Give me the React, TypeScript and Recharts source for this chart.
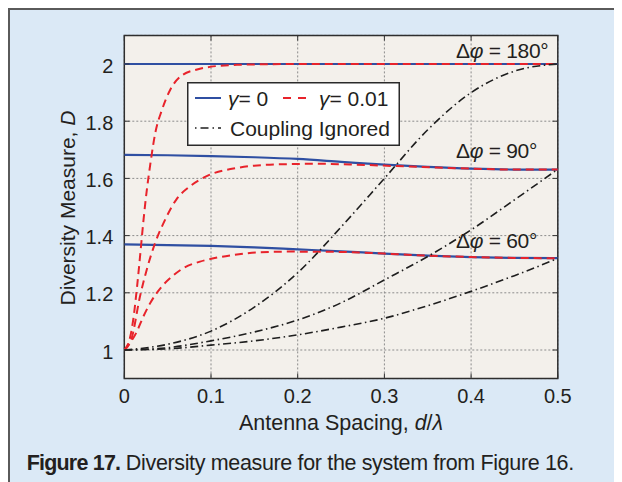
import React from 'react';
import {
  LineChart,
  Line,
  XAxis,
  YAxis,
  CartesianGrid,
  ReferenceArea,
  ReferenceLine,
  ReferenceDot,
  Legend,
} from 'recharts';

// ---------- data ----------
const xTicks = [0, 0.1, 0.2, 0.3, 0.4, 0.5];
const xTickLabels = ['0', '0.1', '0.2', '0.3', '0.4', '0.5'];
const yTicks = [1, 1.2, 1.4, 1.6, 1.8, 2];
const yTickLabels = ['1', '1.2', '1.4', '1.6', '1.8', '2'];

// gamma = 0 (solid blue)
const blue180X = [0, 0.1, 0.2, 0.3, 0.4, 0.5];
const blue180Y = [2, 2, 2, 2, 2, 2];
const blue90X = [0, 0.05, 0.1, 0.15, 0.2, 0.25, 0.3, 0.35, 0.4, 0.45, 0.5];
const blue90Y = [1.682, 1.681, 1.678, 1.674, 1.668, 1.658, 1.648, 1.64, 1.634, 1.631, 1.631];
const blue60X = [0, 0.05, 0.1, 0.15, 0.2, 0.25, 0.3, 0.35, 0.4, 0.45, 0.5];
const blue60Y = [1.369, 1.367, 1.364, 1.359, 1.352, 1.345, 1.337, 1.33, 1.325, 1.322, 1.321];

// gamma = 0.01 (dashed red)
const red180X = [0, 0.0069, 0.0108, 0.0147, 0.0185, 0.022, 0.026, 0.03, 0.0358, 0.0435, 0.053, 0.0647, 0.084, 0.099, 0.13, 0.2, 0.3, 0.4, 0.5];
const red180Y = [1, 1.047, 1.117, 1.221, 1.338, 1.45, 1.56, 1.65, 1.76, 1.84, 1.91, 1.956, 1.981, 1.99, 1.997, 2, 2, 2, 2];
const red90X = [0, 0.0085, 0.018, 0.0258, 0.0354, 0.047, 0.06, 0.076, 0.095, 0.131, 0.177, 0.223, 0.268, 0.314, 0.36, 0.4, 0.45, 0.5];
const red90Y = [1, 1.041, 1.186, 1.28, 1.373, 1.455, 1.526, 1.573, 1.608, 1.637, 1.649, 1.651, 1.648, 1.643, 1.638, 1.634, 1.631, 1.631];
const red60X = [0, 0.0144, 0.022, 0.0297, 0.043, 0.0547, 0.068, 0.0873, 0.099, 0.126, 0.157, 0.187, 0.25, 0.3, 0.35, 0.4, 0.45, 0.5];
const red60Y = [1, 1.064, 1.117, 1.163, 1.221, 1.256, 1.286, 1.309, 1.318, 1.332, 1.342, 1.344, 1.343, 1.337, 1.33, 1.325, 1.322, 1.321];

// coupling ignored (dash-dot black)
const blackX = [0, 0.05, 0.1, 0.15, 0.2, 0.25, 0.3, 0.35, 0.4, 0.45, 0.5];
const black180Y = [1, 1.02, 1.066, 1.15, 1.27, 1.43, 1.6, 1.77, 1.9, 1.975, 2];
const black90Y = [1, 1.008, 1.032, 1.063, 1.105, 1.165, 1.245, 1.327, 1.42, 1.525, 1.632];
const black60Y = [1, 1.004, 1.017, 1.032, 1.053, 1.08, 1.111, 1.155, 1.205, 1.26, 1.32];

// annotations
const phiLabels = ['180', '90', '60'];
const phiLabelX = [0.3826, 0.3826, 0.3826];
const phiLabelY = [2.02, 1.67, 1.356];

const legendLabels = ['0', '0.01', 'Coupling Ignored'];
const xTitle = 'Antenna Spacing, ';
const yTitle = 'Diversity Measure, ';
const captionBold = 'Figure 17.';
const captionText = ' Diversity measure for the system from Figure 16.';

type Pt = { x: number; y: number };
const mk = (xs: number[], ys: number[]): Pt[] => xs.map((x, i) => ({ x, y: ys[i] }));

const blue180 = mk(blue180X, blue180Y);
const blue90 = mk(blue90X, blue90Y);
const blue60 = mk(blue60X, blue60Y);
const red180 = mk(red180X, red180Y);
const red90 = mk(red90X, red90Y);
const red60 = mk(red60X, red60Y);
const black180 = mk(blackX, black180Y);
const black90 = mk(blackX, black90Y);
const black60 = mk(blackX, black60Y);

// ---------- style ----------
const FONT = '"Liberation Sans", Arial, Helvetica, sans-serif';
const TXT = '#231f20';
const BLUE = '#2f4fa2';
const RED = '#e8232b';
const BLACK = '#1e1e1e';
const RED_DASH = '8 5';
const BLACK_DASH = '8 3.5 1.5 3.5';

const X0 = 0, X1 = 0.5, Y0 = 0.9, Y1 = 2.1;
const TICK_DX = 0.006; // inward tick length in x-units
const TICK_DY = 0.018; // inward tick length in y-units

const LegendBox = () => (
  <svg width={213} height={64} style={{ display: 'block' }}>
    <rect x={0.75} y={0.75} width={211.5} height={62.5} fill="#ffffff" stroke="#2a2a2a" strokeWidth={1.5} />
    <line x1={8} y1={16} x2={34} y2={16} stroke={BLUE} strokeWidth={2} />
    <text x={41} y={23.5} fontSize={21} fill={TXT} fontFamily={FONT}>
      <tspan fontStyle="italic">γ</tspan>= {legendLabels[0]}
    </text>
    <line x1={96} y1={16} x2={120} y2={16} stroke={RED} strokeWidth={2} strokeDasharray="8 7" />
    <text x={132} y={23.5} fontSize={21} fill={TXT} fontFamily={FONT}>
      <tspan fontStyle="italic">γ</tspan>= {legendLabels[1]}
    </text>
    <line x1={8} y1={46} x2={34} y2={46} stroke={BLACK} strokeWidth={1.5} strokeDasharray="1.5 4 8 4" />
    <text x={43} y={53.5} fontSize={21} fill={TXT} fontFamily={FONT}>
      {legendLabels[2]}
    </text>
  </svg>
);

const makePhiLabel = (val: string) => (props: any) => {
  const vb = props.viewBox || {};
  const x = (vb.x ?? 0) + (vb.width ?? 0) / 2;
  const y = (vb.y ?? 0) + (vb.height ?? 0) / 2;
  return (
    <text x={x} y={y} fontSize={21} fill={TXT} fontFamily={FONT} letterSpacing={-0.3}>
      Δ<tspan fontStyle="italic">φ</tspan> = {val}°
    </text>
  );
};

const XTitle = (props: any) => {
  const vb = props.viewBox || {};
  return (
    <text x={vb.x + vb.width / 2} y={vb.y + 51.5} textAnchor="middle" fontSize={21.5} fill={TXT} fontFamily={FONT}>
      {xTitle}
      <tspan fontStyle="italic">d</tspan>/<tspan fontStyle="italic">λ</tspan>
    </text>
  );
};

const YTitle = (props: any) => {
  const vb = props.viewBox || {};
  const cx = 65;
  const cy = vb.y + vb.height / 2 + 1;
  return (
    <text x={cx} y={cy} transform={`rotate(-90, ${cx}, ${cy})`} textAnchor="middle" fontSize={21} fill={TXT} fontFamily={FONT}>
      {yTitle}
      <tspan fontStyle="italic">D</tspan>
    </text>
  );
};

export default function App() {
  return (
    <div
      style={{
        position: 'relative',
        width: 614,
        height: 474,
        boxSizing: 'border-box',
        borderTop: '2px solid #5a5a5a',
        borderLeft: '2px solid #5a5a5a',
        background: '#dbe9f6',
        fontFamily: FONT,
      }}
    >
      <style>{'html,body{overflow:hidden}'}</style>
      <div style={{ position: 'absolute', left: 0, top: 0 }}>
        <LineChart
          width={612}
          height={440}
          margin={{ top: 25.4, right: 64.2, left: 0, bottom: 11.4 }}
        >
          <CartesianGrid
            stroke="#8c8c8c"
            strokeDasharray="2 2"
            strokeWidth={1}
            fill="#f3f0eb"
            fillOpacity={1}
          />
          <XAxis
            dataKey="x"
            type="number"
            domain={[X0, X1]}
            ticks={xTicks}
            tickFormatter={(v: number) => xTickLabels[xTicks.indexOf(v)] ?? String(v)}
            tickLine={false}
            axisLine={false}
            tickSize={0}
            tickMargin={10.5}
            height={60}
            tick={{ fill: TXT, fontSize: 20, fontFamily: FONT }}
            label={<XTitle />}
            allowDataOverflow
          />
          <YAxis
            type="number"
            domain={[Y0, Y1]}
            ticks={yTicks}
            tickFormatter={(v: number) => yTickLabels[yTicks.indexOf(v)] ?? String(v)}
            tickLine={false}
            axisLine={false}
            tickSize={0}
            tickMargin={11}
            width={114.3}
            tick={{ fill: TXT, fontSize: 20, fontFamily: FONT, dy: 1.5 }}
            label={<YTitle />}
            allowDataOverflow
          />

          <Line data={blue180} dataKey="y" type="monotone" stroke={BLUE} strokeWidth={2.2} dot={false} isAnimationActive={false} />
          <Line data={blue90} dataKey="y" type="monotone" stroke={BLUE} strokeWidth={2.2} dot={false} isAnimationActive={false} />
          <Line data={blue60} dataKey="y" type="monotone" stroke={BLUE} strokeWidth={2.2} dot={false} isAnimationActive={false} />
          <Line data={red180} dataKey="y" type="monotone" stroke={RED} strokeWidth={2} strokeDasharray={RED_DASH} dot={false} isAnimationActive={false} />
          <Line data={red90} dataKey="y" type="monotone" stroke={RED} strokeWidth={2} strokeDasharray={RED_DASH} dot={false} isAnimationActive={false} />
          <Line data={red60} dataKey="y" type="monotone" stroke={RED} strokeWidth={2} strokeDasharray={RED_DASH} dot={false} isAnimationActive={false} />
          <Line data={black180} dataKey="y" type="monotone" stroke={BLACK} strokeWidth={1.6} strokeDasharray={BLACK_DASH} dot={false} isAnimationActive={false} />
          <Line data={black90} dataKey="y" type="monotone" stroke={BLACK} strokeWidth={1.6} strokeDasharray={BLACK_DASH} dot={false} isAnimationActive={false} />
          <Line data={black60} dataKey="y" type="monotone" stroke={BLACK} strokeWidth={1.6} strokeDasharray={BLACK_DASH} dot={false} isAnimationActive={false} />

          {xTicks.map((t) => (
            <ReferenceLine key={`xb${t}`} segment={[{ x: t, y: Y0 }, { x: t, y: Y0 + TICK_DY }]} stroke="#333" strokeWidth={1} />
          ))}
          {xTicks.map((t) => (
            <ReferenceLine key={`xt${t}`} segment={[{ x: t, y: Y1 }, { x: t, y: Y1 - TICK_DY }]} stroke="#333" strokeWidth={1} />
          ))}
          {yTicks.map((t) => (
            <ReferenceLine key={`yl${t}`} segment={[{ x: X0, y: t }, { x: X0 + TICK_DX, y: t }]} stroke="#333" strokeWidth={1} />
          ))}
          {yTicks.map((t) => (
            <ReferenceLine key={`yr${t}`} segment={[{ x: X1, y: t }, { x: X1 - TICK_DX, y: t }]} stroke="#333" strokeWidth={1} />
          ))}

          <ReferenceArea x1={X0} x2={X1} y1={Y0} y2={Y1} fill="none" fillOpacity={0} stroke="#2e2e2e" strokeWidth={1.5} />

          {phiLabels.map((v, i) => (
            <ReferenceDot
              key={`phi${v}`}
              x={phiLabelX[i]}
              y={phiLabelY[i]}
              r={1}
              fill="none"
              stroke="none"
              label={makePhiLabel(v)}
            />
          ))}

          <Legend
            layout="horizontal"
            align="center"
            verticalAlign="middle"
            wrapperStyle={{ left: 177, top: 72, width: 213, height: 64 }}
            content={() => <LegendBox />}
          />
        </LineChart>
      </div>
      <div
        style={{
          position: 'absolute',
          left: 16.7,
          top: 441,
          fontSize: 21.5,
          color: TXT,
          whiteSpace: 'nowrap',
          lineHeight: 'normal',
          letterSpacing: -0.35,
        }}
      >
        <b style={{ letterSpacing: -0.8 }}>{captionBold}</b>
        {captionText}
      </div>
    </div>
  );
}
